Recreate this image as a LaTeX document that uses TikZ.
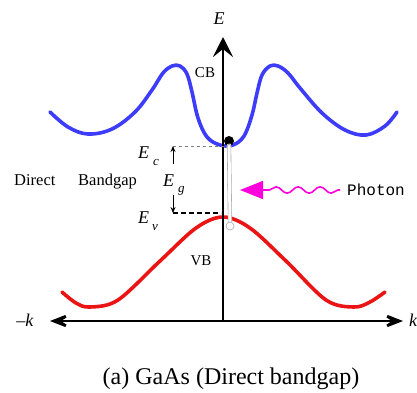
\documentclass[tikz,border=0pt]{standalone}
\usepackage{fontspec}
\setmainfont{Liberation Serif}
\newfontfamily\monof{Liberation Mono}
\usetikzlibrary{arrows.meta,decorations.pathmorphing}
\definecolor{cbblue}{RGB}{60,60,250}
\definecolor{vbred}{RGB}{235,20,20}
\definecolor{phmag}{RGB}{255,0,220}
\begin{document}
\begin{tikzpicture}[x=1pt,y=-1pt,
  band/.style={line width=3.6pt, line join=round, line cap=round},
  axisline/.style={line width=2.8pt},
  bigtip/.style={-{Stealth[length=20pt,width=20pt,inset=8pt]}},
  lbl/.style={inner sep=0pt},
  elab/.style={inner sep=0pt, font=\fontsize{18}{18}\selectfont\itshape},
  sublab/.style={inner sep=0pt, font=\fontsize{13}{13}\selectfont\itshape},
  smalltip/.style={-{Stealth[length=6pt,width=5pt]}, line width=0.9pt},
]
\useasboundingbox (0,0) rectangle (417,392);

% conduction band
\draw[band, cbblue] plot[smooth, tension=0.6] coordinates {
  (50,112) (68,127) (88,134) (112,129) (135,112) (152,90) (163,73) (172,66)
  (180,66) (187,74) (192,92) (198,118) (207,137) (220,145) (233,145) (244,136)
  (252,115) (257,93) (262,75) (270,66) (278,66) (288,73) (300,88) (322,113)
  (345,130) (366,135) (385,126) (397,112)};
% valence band
\draw[band, vbred] plot[smooth, tension=0.55] coordinates {
  (62,292) (76,303) (90,307) (118,300) (160,261) (196,228) (223,217)
  (250,228) (286,261) (326,300) (354,307) (370,302) (385,292)};

% axes
\coordinate (o) at (223,321);
\coordinate (etop) at (223,37);
\coordinate (kl) at (50,321);
\coordinate (kr) at (403,321);
\draw[axisline, {Stealth[length=28pt,width=22pt,inset=17pt]}-{Stealth[length=28pt,width=22pt,inset=17pt]}] (kl) -- (kr);
\draw[axisline, bigtip] (o) -- (etop);

% electron and hole
\node[circle, fill=black, minimum size=10pt, inner sep=0pt] (elec) at (229,141) {};
\node[circle, draw=gray!70, fill=white, line width=0.6pt, minimum size=8pt, inner sep=0pt] (hole) at (230,226) {};

% transition arrow
\draw[gray!70, line width=0.6pt, double=white, double distance=3pt, -{Straight Barb[length=4pt,width=6pt]}] (hole.north) -- ([yshift=3pt]elec.south);

% energy level guides
\coordinate (ecl) at (173,146);
\coordinate (ecr) at (224,146);
\coordinate (evl) at (173,213);
\coordinate (evr) at (221,213);
\draw[gray, dashed, line width=0.6pt] (ecl) -- (ecr);
\draw[black, dash pattern=on 5pt off 3pt, line width=1.1pt] (evl) -- (evr);
\coordinate (egu) at (173,164);
\coordinate (egd) at (173,195);
\draw[smalltip] (egu) -- (ecl);
\draw[smalltip] (egd) -- (evl);

% photon
\coordinate (phs) at (340,190);
\coordinate (phm) at (266,190);
\coordinate (pht) at (240,190);
\draw[phmag, line width=1.6pt, decorate, decoration={snake, amplitude=3.2pt, segment length=22pt, pre length=2pt, post length=2pt}] (phs) -- (phm);
\draw[phmag, line width=1.6pt, -{Triangle[length=23pt,width=18pt]}] ([xshift=1pt]phm) -- (pht);

% labels
\node[elab] (lE) at (219,19) {E};
\node[lbl, font=\fontsize{15}{15}\selectfont] (lcb) at (205,73) {CB};
\node[lbl, font=\fontsize{15}{15}\selectfont] (lvb) at (201,261) {VB};
\node[elab, anchor=base west] (lec) at (138,158) {E};
\node[sublab, anchor=base west] (lecs) at (153,165) {c};
\node[elab, anchor=base west] (leg) at (163,186) {E};
\node[sublab, anchor=base west] (legs) at (178,192) {g};
\node[elab, anchor=base west] (lev) at (138,223) {E};
\node[sublab, anchor=base west] (levs) at (152,230) {v};
\node[lbl, anchor=base west, font=\fontsize{16.5}{16.5}\selectfont] (ldir) at (14,185) {Direct};
\node[lbl, anchor=base west, font=\fontsize{16.5}{16.5}\selectfont] (lbg) at (78,185) {Bandgap};
\node[lbl, anchor=base west, font=\monof\fontsize{16}{16}\selectfont] (lph) at (347,195) {Photon};
\node[lbl, font=\fontsize{18}{18}\selectfont] (lmk) at (25,320) {–\textit{k}};
\node[lbl, anchor=west, font=\fontsize{18}{18}\selectfont\itshape] (lk) at (409,320) {k};
\node[lbl, anchor=base, font=\fontsize{24}{24}\selectfont] (cap) at (231,384) {(a) GaAs (Direct bandgap)};
\end{tikzpicture}
\end{document}
